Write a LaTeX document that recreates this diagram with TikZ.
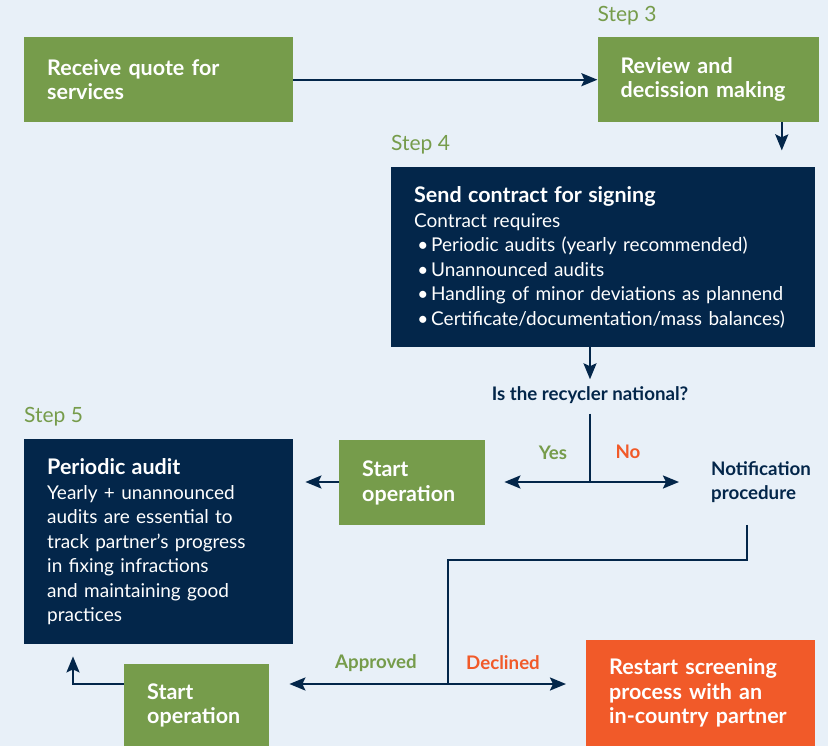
\documentclass[tikz,border=0pt]{standalone}
\usepackage{fontspec}
\setmainfont{Lato}
\usetikzlibrary{positioning}
\usetikzlibrary{arrows.meta}

\definecolor{bgblue}{HTML}{E8F0F8}
\definecolor{leafgreen}{HTML}{769C4B}
\definecolor{navy}{HTML}{03264A}
\definecolor{signal}{HTML}{F15A29}

\newcommand{\bodyfont}{\fontsize{19}{24.5}\selectfont}
\newcommand{\headfont}{\fontsize{21.5}{24.5}\selectfont\bfseries}
\newcommand{\tagfont}{\fontsize{18.7}{24.5}\selectfont\bfseries}
\newcommand{\bul}{\makebox[17pt][l]{\,•}}

\begin{document}
\begin{tikzpicture}
[x = 1pt, y = -1pt,
font = \bodyfont,
box/.style = {rectangle, inner xsep = 23pt, inner ysep = 0pt, align = left, text = white, anchor = north west},
greenbox/.style = {box, fill = leafgreen, font = \headfont},
navybox/.style = {box, fill = navy},
orangebox/.style = {box, fill = signal, font = \headfont},
steplabel/.style = {text = leafgreen, inner sep = 0pt, anchor = south west, font = \fontsize{21}{24}\selectfont},
decision/.style = {text = navy, inner sep = 0pt, align = left, font = \tagfont},
yes/.style = {text = leafgreen, inner sep = 0pt, font = \tagfont},
no/.style = {text = signal, inner sep = 0pt, font = \tagfont},
line/.style = {draw = navy, line width = 2.2pt},
post/.style = {line, -{Stealth[length = 16pt, width = 13pt, inset = 3pt]}}]

\fill[bgblue] (0, 0) rectangle (828, 746);
\useasboundingbox (0, 0) rectangle (828, 746);

% top row
\node[greenbox, text width = 223pt, minimum height = 85pt] (quote) at (24, 37) {Receive quote for\\services};
\node[greenbox, text width = 175pt, minimum height = 85pt] (review) [right = 304pt of quote] {Review and\\decission making};
\node[steplabel] (step3) [above right = 12pt and 0pt of review.north west] {Step 3};

% contract
\node[navybox, text width = 378pt, minimum height = 180pt] (contract) at (391, 167)
{{\headfont Send contract for signing}\\
Contract requires\\
\bul Periodic audits (yearly recommended)\\
\bul Unannounced audits\\
\bul Handling of minor deviations as plannend\\
\bul Certificate/documentation/mass balances)};
\node[steplabel] (step4) [above right = 13pt and 0pt of contract.north west] {Step 4};

% decision
\node[decision] (question) at (590, 395) {Is the recycler national?};
\coordinate (split) at (590, 482);
\node[yes] (yeslbl) at (553, 453) {Yes};
\node[no] (nolbl) at (628, 452) {No};
\node[decision, anchor = west] (notify) at (711, 482) {Notification\\procedure};

% left branch
\node[greenbox, text width = 100pt, minimum height = 85pt] (startA) at (339, 440) {Start\\operation};
\node[navybox, text width = 223pt, minimum height = 205pt] (audit) at (24, 439)
{{\headfont Periodic audit}\\
Yearly + unannounced\\
audits are essential to\\
track partner’s progress\\
in fixing infractions\\
and maintaining good\\
practices};
\node[steplabel] (step5) [above right = 13pt and 0pt of audit.north west] {Step 5};

% bottom row
\coordinate (bend) at (448, 560);
\coordinate (fork) at (448, 684);
\node[greenbox, text width = 99pt, minimum height = 82pt] (startB) at (124, 664) {Start\\operation};
\node[orangebox, text width = 183pt, minimum height = 106pt] (restart) at (586, 640)
{Restart screening\\process with an\\in-country partner};
\node[yes] (approved) at (376, 663) {Approved};
\node[no] (declined) at (503, 663) {Declined};

% connectors
\draw[post] (quote.east) -- (review.west);
\draw[post] ([xshift = -37pt]review.south east) -- ++(0, 28);
\draw[post, shorten >= 7pt] (contract.south -| question) -- (question.north);
\draw[line] ([yshift = -10pt]question.south -| split) -- (split);
\draw[post, shorten >= 19pt] (split) -- (split -| startA.east);
\draw[post, shorten >= 32pt] (split) -- (notify.west);
\draw[post, shorten >= 12pt] (startA.west |- split) -- (split -| audit.east);
\draw[line] ([xshift = 36pt, yshift = -22pt]notify.south west) |- (bend) -- (fork);
\draw[post, shorten >= 20pt] (fork) -- (fork -| startB.east);
\draw[post, shorten >= 20pt] (fork) -- (fork -| restart.west);
\draw[post, shorten >= 12pt] (fork -| startB.west) -| ([xshift = 49pt]audit.south west);
\end{tikzpicture}
\end{document}
